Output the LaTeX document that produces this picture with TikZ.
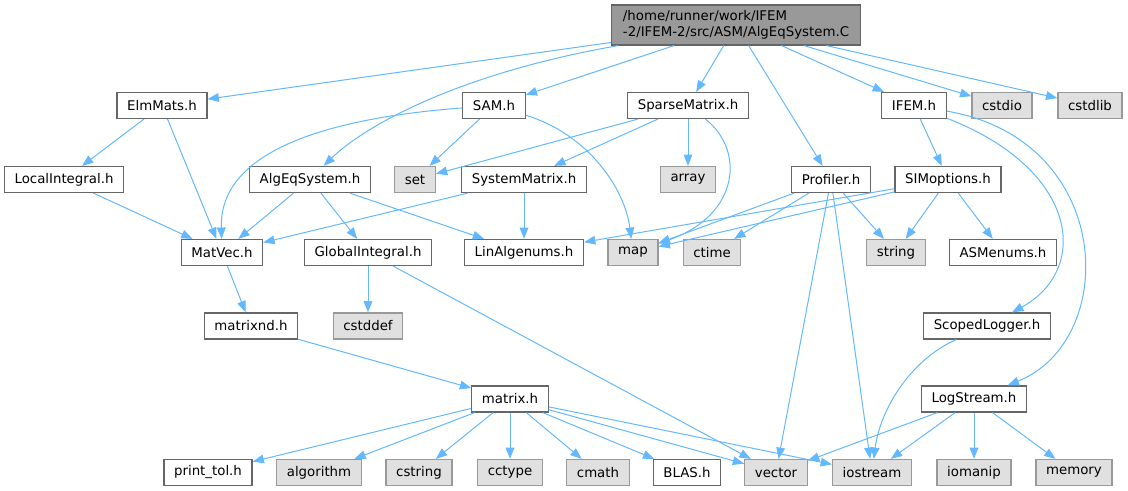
\documentclass[tikz,border=0pt]{standalone}
\usepackage{fontspec}
\setmainfont{DejaVu Sans}
\usepackage{tikz}
\usetikzlibrary{arrows.meta}
\definecolor{linkblue}{HTML}{63B8FF}
\definecolor{boxgray}{HTML}{666666}
\definecolor{sysgray}{HTML}{999999}
\definecolor{sysfill}{HTML}{E0E0E0}
\definecolor{rootfill}{HTML}{999999}

\begin{document}
\begin{tikzpicture}[x=0.75pt, y=-0.75pt]
        \tikzstyle{every node}=[font=\fontsize{10}{12}\selectfont];
        \tikzstyle{hdr}=[draw=boxgray, fill=white, line width=0.9pt, minimum height=19.5pt, inner xsep=7.6pt, inner ysep=0pt];
        \tikzstyle{sys}=[hdr, draw=sysgray, fill=sysfill];
        \tikzstyle{src}=[hdr, fill=rootfill, align=left, minimum height=30pt, inner xsep=8.5pt];
        \tikzstyle{inc}=[draw=linkblue, line width=0.75pt, -{Triangle[length=8.5pt,width=6.5pt]}];
        \useasboundingbox (0,0) rectangle (1128,491);

        \node[src] (root) at (736,25) {/home/runner/work/IFEM\\-2/IFEM-2/src/ASM/AlgEqSystem.C};

        \node[hdr] (elmmats) at (162,105.5) {ElmMats.h};
        \node[hdr] (sam) at (494,105.5) {SAM.h};
        \node[hdr] (sparse) at (688,105.5) {SparseMatrix.h};
        \node[hdr] (ifem) at (914,105.5) {IFEM.h};
        \node[sys] (cstdio) at (1002,105.5) {cstdio};
        \node[sys] (cstdlib) at (1090,105.5) {cstdlib};

        \node[hdr] (localint) at (64,179.5) {LocalIntegral.h};
        \node[hdr] (algeq) at (310,179.5) {AlgEqSystem.h};
        \node[sys] (set) at (415,179.5) {set};
        \node[hdr] (sysmat) at (524,179.5) {SystemMatrix.h};
        \node[sys] (array) at (688,179.5) {array};
        \node[hdr] (profiler) at (831,179.5) {Profiler.h};
        \node[hdr] (simopt) at (948,179.5) {SIMoptions.h};

        \node[hdr] (matvec) at (222,252.5) {MatVec.h};
        \node[hdr] (globint) at (368,252.5) {GlobalIntegral.h};
        \node[hdr] (linalg) at (524,252.5) {LinAlgenums.h};
        \node[sys] (map) at (633,252.5) {map};
        \node[sys] (ctime) at (712,252.5) {ctime};
        \node[sys] (string) at (896,252.5) {string};
        \node[hdr] (asmenums) at (1003,252.5) {ASMenums.h};

        \node[hdr] (matrixnd) at (251,326) {matrixnd.h};
        \node[sys] (cstddef) at (368,326) {cstddef};
        \node[hdr] (scoped) at (987,326) {ScopedLogger.h};

        \node[hdr] (matrix) at (510,399) {matrix.h};
        \node[hdr] (logstream) at (974,399) {LogStream.h};

        \node[hdr] (printtol) at (208,472.5) {print\_tol.h};
        \node[sys] (algorithm) at (319,472.5) {algorithm};
        \node[sys] (cstring) at (419,472.5) {cstring};
        \node[sys] (cctype) at (510,472.5) {cctype};
        \node[sys] (cmath) at (598,472.5) {cmath};
        \node[hdr] (blas) at (687,472.5) {BLAS.h};
        \node[sys] (vector) at (776,472.5) {vector};
        \node[sys] (iostream) at (872,472.5) {iostream};
        \node[sys] (iomanip) at (974,472.5) {iomanip};
        \node[sys] (memory) at (1074,472.5) {memory};

        \draw[inc] (root) -- (elmmats);
        \draw[inc] (root) .. controls (450,75) and (360,130) .. (algeq);
        \draw[inc] (root) -- (sam);
        \draw[inc] (root) -- (sparse);
        \draw[inc] (root) -- (profiler);
        \draw[inc] (root) -- (ifem);
        \draw[inc] (root) -- (cstdio);
        \draw[inc] (root) -- (cstdlib);

        \draw[inc] (elmmats) -- (localint);
        \draw[inc] (elmmats) -- (matvec);
        \draw[inc] (sam) .. controls (330,118) and (219,150) .. (matvec);
        \draw[inc] (sam) -- (set);
        \draw[inc] (sam) .. controls (590,135) and (625,190) .. (map);
        \draw[inc] (sparse) -- (set);
        \draw[inc] (sparse) -- (sysmat);
        \draw[inc] (sparse) -- (array);
        \draw[inc] (sparse) .. controls (745,150) and (740,215) .. (map);
        \draw[inc] (ifem) -- (simopt);
        \draw[inc] (ifem) .. controls (1080,170) and (1090,270) .. (scoped);
        \draw[inc] (ifem) .. controls (1115,140) and (1120,340) .. (logstream);

        \draw[inc] (localint) -- (matvec);
        \draw[inc] (algeq) -- (matvec);
        \draw[inc] (algeq) -- (globint);
        \draw[inc] (algeq) -- (linalg);
        \draw[inc] (sysmat) -- (matvec);
        \draw[inc] (sysmat) -- (linalg);
        \draw[inc] (profiler) -- (map);
        \draw[inc] (profiler) -- (ctime);
        \draw[inc] (profiler) -- (string);
        \draw[inc] (profiler) -- (vector);
        \draw[inc] (profiler) -- (iostream);
        \draw[inc] (simopt) -- (linalg);
        \draw[inc] (simopt) -- (map);
        \draw[inc] (simopt) -- (string);
        \draw[inc] (simopt) -- (asmenums);

        \draw[inc] (matvec) -- (matrixnd);
        \draw[inc] (globint) -- (cstddef);
        \draw[inc] (globint) -- (vector);
        \draw[inc] (matrixnd) -- (matrix);
        \draw[inc] (scoped) .. controls (910,360) and (880,410) .. (iostream);

        \draw[inc] (matrix) -- (printtol);
        \draw[inc] (matrix) -- (algorithm);
        \draw[inc] (matrix) -- (cstring);
        \draw[inc] (matrix) -- (cctype);
        \draw[inc] (matrix) -- (cmath);
        \draw[inc] (matrix) -- (blas);
        \draw[inc] (matrix) -- (vector);
        \draw[inc] (matrix) -- (iostream);
        \draw[inc] (logstream) -- (vector);
        \draw[inc] (logstream) -- (iostream);
        \draw[inc] (logstream) -- (iomanip);
        \draw[inc] (logstream) -- (memory);
    \end{tikzpicture}
\end{document}
